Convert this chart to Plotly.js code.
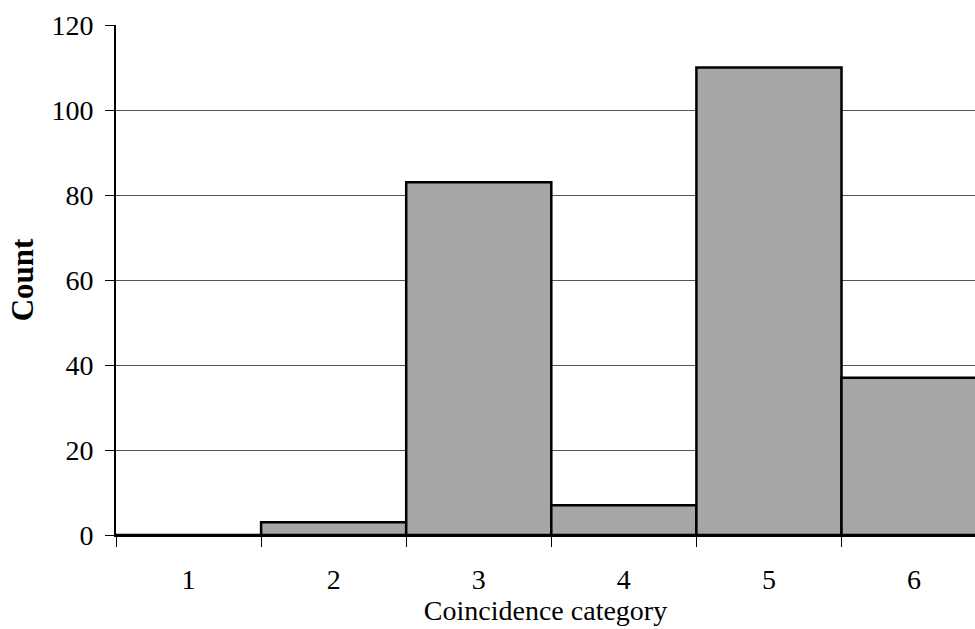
<!DOCTYPE html>
<html>
<head>
<meta charset="utf-8">
<script src="https://cdn.plot.ly/plotly-3.0.1.min.js"></script>
<style>html,body{margin:0;padding:0;background:#fff;overflow:hidden}</style>
</head>
<body>
<div id="chart" style="width:975px;height:629px"></div>
<script>
const categories = ["1", "2", "3", "4", "5", "6"];
const counts = [0, 3, 83, 7, 110, 37];
const yTicks = [0, 20, 40, 60, 80, 100, 120];

const serif = "Liberation Serif, Times New Roman, serif";

const trace = {
  type: "bar",
  x: categories,
  y: counts,
  marker: {
    color: "#a6a6a6",
    line: {color: "#000", width: 2.5}
  },
  hoverinfo: "skip"
};

const layout = {
  width: 975,
  height: 629,
  margin: {l: 116, r: 0, t: 25, b: 94},
  paper_bgcolor: "#fff",
  plot_bgcolor: "#fff",
  bargap: 0,
  showlegend: false,
  font: {family: serif, color: "#000", size: 28},
  xaxis: {
    type: "category",
    range: [-0.5, 5.42],
    tickson: "boundaries",
    ticks: "outside",
    ticklen: 10,
    tickwidth: 1,
    tickcolor: "#000",
    ticklabelstandoff: 18,
    showgrid: false,
    showline: true,
    linecolor: "#000",
    linewidth: 2,
    tickfont: {family: serif, size: 28, color: "#000"},
    title: {text: "Coincidence category", font: {family: serif, size: 28, color: "#000"}, standoff: 6}
  },
  yaxis: {
    range: [0, 120],
    tickvals: yTicks,
    ticktext: yTicks.map(String),
    ticks: "outside",
    ticklen: 9,
    tickwidth: 1,
    tickcolor: "#000",
    ticklabelstandoff: 6,
    showgrid: true,
    gridcolor: "#555",
    gridwidth: 1,
    zeroline: false,
    showline: true,
    linecolor: "#000",
    linewidth: 2,
    tickfont: {family: serif, size: 28, color: "#000"},
    title: {text: "<b>Count</b>", font: {family: serif, size: 31, color: "#000"}, standoff: 9}
  }
};

Plotly.newPlot("chart", [trace], layout, {staticPlot: true, displayModeBar: false});
</script>
</body>
</html>
